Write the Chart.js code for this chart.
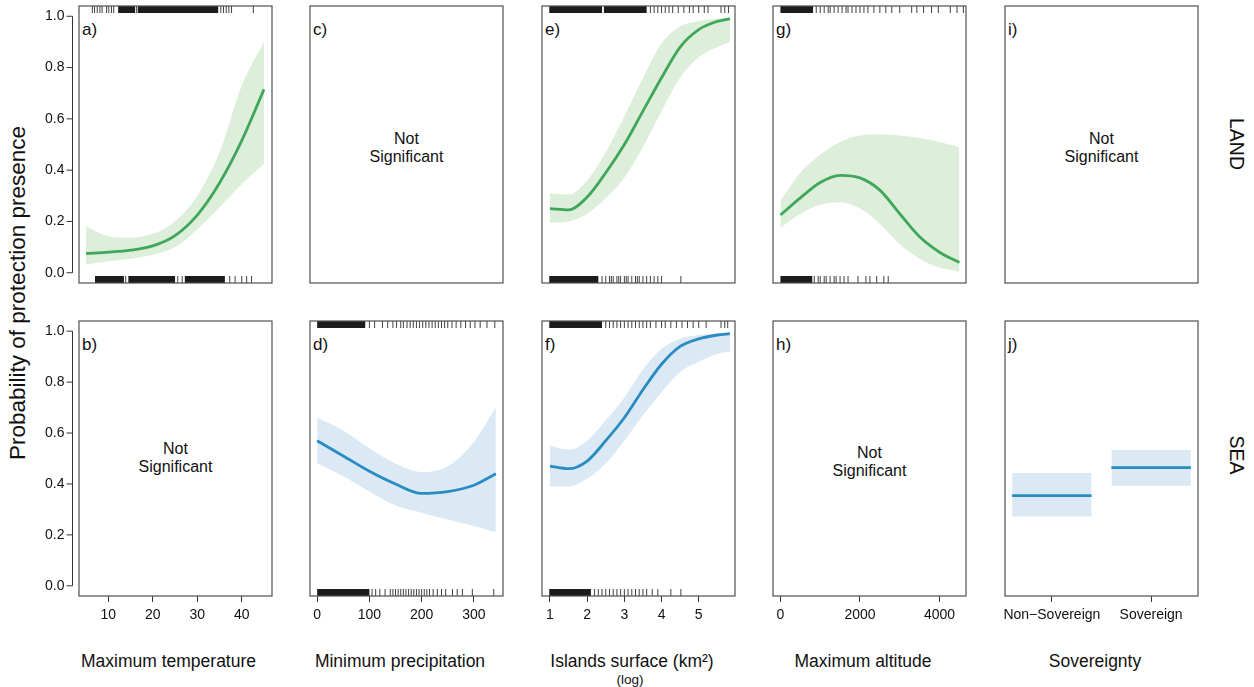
<!DOCTYPE html>
<html>
<head>
<meta charset="utf-8">
<script src="https://cdn.jsdelivr.net/npm/chart.js@4.4.1/dist/chart.umd.min.js"></script>
<style>
  body { margin: 0; background: #fff; }
  #fig { position: relative; width: 1254px; height: 687px; font-family: 'Liberation Sans', Arial, sans-serif; color: #111; overflow: hidden; }
  #fig canvas { position: absolute; left: 0; top: 0; }
  .txt { position: absolute; transform: translate(-50%, -50%); white-space: nowrap; text-align: center; }
  .lab { position: absolute; transform: translate(0, -50%); font-size: 17px; }
  .ns { font-size: 16px; line-height: 18px; }
  .xt { font-size: 17.5px; }
</style>
</head>
<body>
<div id="fig">
  <div class="txt" style="left:18px;top:293px;font-size:22.5px;transform:translate(-50%,-50%) rotate(-90deg)">Probability of protection presence</div>
  <div class="txt" style="left:1236px;top:144px;font-size:19.5px;transform:translate(-50%,-50%) rotate(90deg)">LAND</div>
  <div class="txt" style="left:1236px;top:455px;font-size:19.5px;transform:translate(-50%,-50%) rotate(90deg)">SEA</div>

  <div class="lab" style="left:82px;top:29.5px">a)</div>
  <div class="lab" style="left:313px;top:29.5px">c)</div>
  <div class="lab" style="left:545px;top:29.5px">e)</div>
  <div class="lab" style="left:776px;top:29.5px">g)</div>
  <div class="lab" style="left:1008px;top:29.5px">i)</div>
  <div class="lab" style="left:82px;top:344.5px">b)</div>
  <div class="lab" style="left:313px;top:344.5px">d)</div>
  <div class="lab" style="left:545px;top:344.5px">f)</div>
  <div class="lab" style="left:776px;top:344.5px">h)</div>
  <div class="lab" style="left:1008px;top:344.5px">j)</div>

  <div class="txt ns" style="left:406.5px;top:148px">Not<br>Significant</div>
  <div class="txt ns" style="left:1101.5px;top:148px">Not<br>Significant</div>
  <div class="txt ns" style="left:175.5px;top:458px">Not<br>Significant</div>
  <div class="txt ns" style="left:869.5px;top:462px">Not<br>Significant</div>

  <div class="txt xt" style="left:168.5px;top:661px">Maximum temperature</div>
  <div class="txt xt" style="left:400px;top:661px">Minimum precipitation</div>
  <div class="txt xt" style="left:632px;top:661px">Islands surface (km²)</div>
  <div class="txt" style="left:630px;top:679px;font-size:13.5px">(log)</div>
  <div class="txt xt" style="left:863px;top:661px">Maximum altitude</div>
  <div class="txt xt" style="left:1095px;top:661px">Sovereignty</div>
</div>
<script>
// ---------- tick labels ----------
const yTicks = [0, 0.2, 0.4, 0.6, 0.8, 1.0];
const tempTicks = [10, 20, 30, 40];
const precTicks = [0, 100, 200, 300];
const surfTicks = [1, 2, 3, 4, 5];
const altTicks = [0, 2000, 4000];
const sovTicks = [1, 2];
const sovCategories = ['Non\u2212Sovereign', 'Sovereign'];

// axis limits (data units)
const tempRange = [3.4, 46.8];
const precRange = [-13.7, 355.7];
const surfRange = [0.785, 5.976];
const altRange = [-187, 4666];
const sovRange = [0.528, 2.472];

// ---------- a) maximum temperature, land ----------
const tempX = [5, 10, 15, 20, 25, 30, 35, 40, 45];
const tempFit = [0.075, 0.08, 0.088, 0.105, 0.145, 0.225, 0.35, 0.515, 0.715];
const tempUpper = [0.18, 0.142, 0.136, 0.152, 0.2, 0.3, 0.47, 0.73, 0.9];
const tempLower = [0.032, 0.045, 0.055, 0.07, 0.1, 0.17, 0.255, 0.345, 0.425];
const tempRugTopBlocks = [[12.2, 16.0], [16.6, 34.7]];
const tempRugTop = [6.4, 6.9, 7.5, 8.1, 8.6, 9.6, 10.1, 10.7, 11.2, 16.3, 35.3, 35.9, 36.5, 37.1, 37.7, 42.6];
const tempRugBottomBlocks = [[7.0, 13.5], [14.5, 25.0], [27.2, 36.2]];
const tempRugBottom = [13.9, 25.6, 26.6, 37.3, 38.5, 40.0, 41.1, 42.2];

// ---------- d) minimum precipitation, sea ----------
const precX = [0, 50, 100, 150, 200, 250, 300, 342];
const precFit = [0.57, 0.51, 0.45, 0.4, 0.363, 0.37, 0.395, 0.44];
const precUpper = [0.66, 0.61, 0.54, 0.48, 0.447, 0.47, 0.565, 0.7];
const precLower = [0.48, 0.43, 0.37, 0.315, 0.287, 0.26, 0.235, 0.21];
const precRugTopBlocks = [[0, 92]];
const precRugTop = [100, 110, 125, 135, 145, 152, 160, 165, 172, 178, 184, 190, 196, 202, 208, 214, 220, 226, 232, 238, 244, 250, 258, 266, 275, 284, 293, 302, 312, 325, 340];
const precRugBottomBlocks = [[0, 100]];
const precRugBottom = [105, 112, 120, 130, 140, 145, 150, 155, 160, 165, 170, 175, 180, 185, 190, 195, 200, 205, 210, 215, 222, 230, 238, 246, 259, 268, 278, 297, 338];

// ---------- e) / f) islands surface ----------
const surfX = [1, 1.5, 2, 2.5, 3, 3.5, 4, 4.5, 5, 5.5, 5.84];
const surfLandFit = [0.25, 0.245, 0.295, 0.39, 0.5, 0.63, 0.76, 0.88, 0.948, 0.98, 0.99];
const surfLandUpper = [0.31, 0.305, 0.36, 0.47, 0.61, 0.76, 0.895, 0.96, 0.982, 0.99, 0.995];
const surfLandLower = [0.195, 0.2, 0.23, 0.29, 0.37, 0.49, 0.63, 0.76, 0.84, 0.88, 0.9];
const surfLandRugTopBlocks = [[0.98, 2.4], [2.45, 3.6]];
const surfLandRugTop = [3.7, 3.8, 3.9, 4.0, 4.1, 4.2, 4.3, 4.45, 4.6, 4.75, 4.85, 5.0, 5.15, 5.25, 5.6, 5.7, 5.8];
const surfLandRugBottomBlocks = [[0.98, 2.3]];
const surfLandRugBottom = [2.4, 2.5, 2.6, 2.65, 2.7, 2.8, 2.85, 2.9, 3.0, 3.05, 3.1, 3.2, 3.3, 3.35, 3.4, 3.5, 3.6, 3.7, 3.8, 3.9, 4.0, 4.52];

const surfSeaFit = [0.47, 0.46, 0.49, 0.57, 0.66, 0.77, 0.87, 0.94, 0.97, 0.985, 0.99];
const surfSeaUpper = [0.55, 0.535, 0.57, 0.65, 0.74, 0.85, 0.93, 0.97, 0.985, 0.99, 0.995];
const surfSeaLower = [0.39, 0.39, 0.42, 0.48, 0.57, 0.67, 0.76, 0.84, 0.88, 0.91, 0.92];
const surfSeaRugTopBlocks = [[0.98, 2.4]];
const surfSeaRugTop = [2.5, 2.6, 2.7, 2.8, 2.9, 3.0, 3.1, 3.2, 3.3, 3.4, 3.5, 3.6, 3.7, 3.85, 4.0, 4.1, 4.25, 4.4, 4.55, 4.7, 4.85, 5.0, 5.2, 5.6, 5.7, 5.78];
const surfSeaRugBottomBlocks = [[0.98, 2.1]];
const surfSeaRugBottom = [2.2, 2.3, 2.4, 2.5, 2.6, 2.7, 2.8, 2.9, 3.0, 3.1, 3.2, 3.3, 3.4, 3.5, 3.6, 3.75, 3.9, 4.25, 4.52];

// ---------- g) maximum altitude, land ----------
const altX = [0, 500, 1000, 1500, 2000, 2500, 3000, 3500, 4000, 4500];
const altFit = [0.225, 0.292, 0.352, 0.38, 0.37, 0.322, 0.23, 0.14, 0.08, 0.04];
const altUpper = [0.28, 0.39, 0.46, 0.51, 0.535, 0.54, 0.535, 0.525, 0.51, 0.49];
const altLower = [0.175, 0.23, 0.265, 0.275, 0.25, 0.19, 0.11, 0.055, 0.02, 0.005];
const altRugTopBlocks = [[0, 820]];
const altRugTop = [900, 1000, 1100, 1200, 1250, 1350, 1450, 1550, 1650, 1700, 1800, 1900, 2000, 2100, 2200, 2350, 2500, 2650, 2800, 3000, 3300, 3430, 3600, 3800, 3970, 4270, 4440, 4600];
const altRugBottomBlocks = [[0, 800]];
const altRugBottom = [850, 950, 1000, 1100, 1150, 1250, 1350, 1400, 1500, 1600, 1700, 1950, 2150, 2250, 2420, 2600, 2710];

// ---------- j) sovereignty, sea ----------
const sovFit = [0.354, 0.464];
const sovUpper = [0.443, 0.533];
const sovLower = [0.272, 0.393];

// ---------- layout ----------
const W = 1254, H = 687;
const colLeft = [79, 310, 542, 773, 1005];
const rowTop = [6, 321];
const boxW = 193;
const boxH = [277, 275];
const X_AXIS_H = 40;
const Y_MIN = -0.04, Y_MAX = 1.04;

const GREEN = '#3fa65a', GREEN_BAND = '#ddefdb';
const BLUE = '#2a8ac2', BLUE_BAND = '#dae9f4';

Chart.defaults.font.family = "'Liberation Sans', Arial, sans-serif";
Chart.defaults.font.size = 14;
Chart.defaults.color = '#111';

function pts(xs, ys) { return xs.map((x, i) => ({ x: x, y: ys[i] })); }

function curveSets(xs, fit, lo, hi, line, band) {
  return [
    { data: pts(xs, fit), borderColor: line, borderWidth: 2.8, pointRadius: 0, fill: false, cubicInterpolationMode: 'monotone' },
    { data: pts(xs, hi), borderWidth: 0, borderColor: band, backgroundColor: band, pointRadius: 0, fill: '+1', cubicInterpolationMode: 'monotone' },
    { data: pts(xs, lo), borderWidth: 0, borderColor: band, pointRadius: 0, fill: false, cubicInterpolationMode: 'monotone' }
  ];
}

function rugSets(blocks, ticks, y) {
  const bl = [];
  blocks.forEach(b => { bl.push({ x: b[0], y: y }, { x: b[1], y: y }, { x: b[1], y: null }); });
  return [
    { data: bl, borderColor: '#1c1c1c', borderWidth: 7, borderCapStyle: 'butt', pointRadius: 0, fill: false, tension: 0, spanGaps: false },
    { type: 'scatter', data: ticks.map(v => ({ x: v, y: y })), pointStyle: 'line', rotation: 90, pointRadius: 3.5,
      borderColor: 'rgba(0,0,0,0.75)', borderWidth: 1, showLine: false }
  ];
}

function boxPlugin(withYAxis) {
  return {
    id: 'panelBox',
    afterDraw(chart) {
      const ctx = chart.ctx, a = chart.chartArea;
      ctx.save();
      ctx.strokeStyle = '#505050';
      ctx.lineWidth = 1.2;
      ctx.strokeRect(a.left, a.top, a.right - a.left, a.bottom - a.top);
      if (withYAxis) {
        const ys = chart.scales.y;
        const x0 = a.left - 6.5;
        ctx.strokeStyle = '#333';
        ctx.lineWidth = 1;
        ctx.beginPath();
        ctx.moveTo(x0, ys.getPixelForValue(yTicks[0]));
        ctx.lineTo(x0, ys.getPixelForValue(yTicks[yTicks.length - 1]));
        yTicks.forEach(v => {
          const py = ys.getPixelForValue(v);
          ctx.moveTo(x0 - 6, py);
          ctx.lineTo(x0, py);
        });
        ctx.stroke();
      }
      ctx.restore();
    }
  };
}

function noOverflow(s) {
  s.paddingTop = 0; s.paddingBottom = 0; s.paddingLeft = 0; s.paddingRight = 0;
}

function makePanel(p) {
  const canvas = document.createElement('canvas');
  canvas.width = W; canvas.height = H;
  document.getElementById('fig').appendChild(canvas);
  const left = colLeft[p.col], top = rowTop[p.row], h = boxH[p.row];
  const rugTop = Y_MAX - 3.5 * (Y_MAX - Y_MIN) / h;
  const rugBottom = Y_MIN + 3.5 * (Y_MAX - Y_MIN) / h;
  const showX = p.row === 1, showY = p.col === 0;

  let datasets = [];
  if (p.fit) datasets = datasets.concat(curveSets(p.fit[0], p.fit[1], p.fit[2], p.fit[3], p.line, p.band));
  if (p.rug) {
    datasets = datasets.concat(rugSets(p.rug[0], p.rug[1], rugTop));
    datasets = datasets.concat(rugSets(p.rug[2], p.rug[3], rugBottom));
  }

  return new Chart(canvas, {
    type: 'line',
    data: { datasets: datasets },
    options: {
      responsive: false,
      animation: false,
      events: [],
      layout: { padding: {
        left: showY ? 0 : left,
        top: top,
        right: W - left - boxW,
        bottom: H - top - h - (showX ? X_AXIS_H : 0)
      } },
      plugins: { legend: { display: false }, tooltip: { enabled: false } },
      scales: {
        x: {
          type: 'linear',
          min: p.range[0],
          max: p.range[1],
          display: showX,
          afterFit: s => { s.height = showX ? X_AXIS_H : 0; noOverflow(s); },
          afterBuildTicks: s => { s.ticks = p.ticks.map(v => ({ value: v })); },
          grid: { display: true, drawOnChartArea: false, drawTicks: true, tickLength: 6, color: '#333', lineWidth: 1 },
          border: { display: false },
          ticks: {
            padding: 5,
            maxRotation: 0,
            minRotation: 0,
            autoSkip: false,
            callback: v => p.labels ? p.labels[p.ticks.indexOf(v)] : String(v)
          }
        },
        y: {
          type: 'linear',
          min: Y_MIN,
          max: Y_MAX,
          display: showY,
          afterFit: s => { s.width = showY ? left : 0; noOverflow(s); },
          afterBuildTicks: s => { s.ticks = yTicks.map(v => ({ value: v })); },
          grid: { display: false, drawTicks: false },
          border: { display: false },
          ticks: { padding: 14.5, callback: v => v.toFixed(1) }
        }
      }
    },
    plugins: [boxPlugin(showY)]
  });
}

const panels = [
  { col: 0, row: 0, range: tempRange, ticks: tempTicks, line: GREEN, band: GREEN_BAND,
    fit: [tempX, tempFit, tempLower, tempUpper],
    rug: [tempRugTopBlocks, tempRugTop, tempRugBottomBlocks, tempRugBottom] },
  { col: 1, row: 0, range: precRange, ticks: precTicks },
  { col: 2, row: 0, range: surfRange, ticks: surfTicks, line: GREEN, band: GREEN_BAND,
    fit: [surfX, surfLandFit, surfLandLower, surfLandUpper],
    rug: [surfLandRugTopBlocks, surfLandRugTop, surfLandRugBottomBlocks, surfLandRugBottom] },
  { col: 3, row: 0, range: altRange, ticks: altTicks, line: GREEN, band: GREEN_BAND,
    fit: [altX, altFit, altLower, altUpper],
    rug: [altRugTopBlocks, altRugTop, altRugBottomBlocks, altRugBottom] },
  { col: 4, row: 0, range: sovRange, ticks: sovTicks, labels: sovCategories },
  { col: 0, row: 1, range: tempRange, ticks: tempTicks },
  { col: 1, row: 1, range: precRange, ticks: precTicks, line: BLUE, band: BLUE_BAND,
    fit: [precX, precFit, precLower, precUpper],
    rug: [precRugTopBlocks, precRugTop, precRugBottomBlocks, precRugBottom] },
  { col: 2, row: 1, range: surfRange, ticks: surfTicks, line: BLUE, band: BLUE_BAND,
    fit: [surfX, surfSeaFit, surfSeaLower, surfSeaUpper],
    rug: [surfSeaRugTopBlocks, surfSeaRugTop, surfSeaRugBottomBlocks, surfSeaRugBottom] },
  { col: 3, row: 1, range: altRange, ticks: altTicks },
  { col: 4, row: 1, range: sovRange, ticks: sovTicks, labels: sovCategories }
];

const charts = panels.map(makePanel);

// j) categorical effect: one flat segment + band per category
const sovChart = charts[9];
sovTicks.forEach((c, i) => {
  const xs = [c - 0.4, c + 0.4];
  const sets = curveSets(xs, [sovFit[i], sovFit[i]], [sovLower[i], sovLower[i]], [sovUpper[i], sovUpper[i]], BLUE, BLUE_BAND);
  sovChart.data.datasets.push(sets[0], sets[1], sets[2]);
});
sovChart.update();
</script>
</body>
</html>
